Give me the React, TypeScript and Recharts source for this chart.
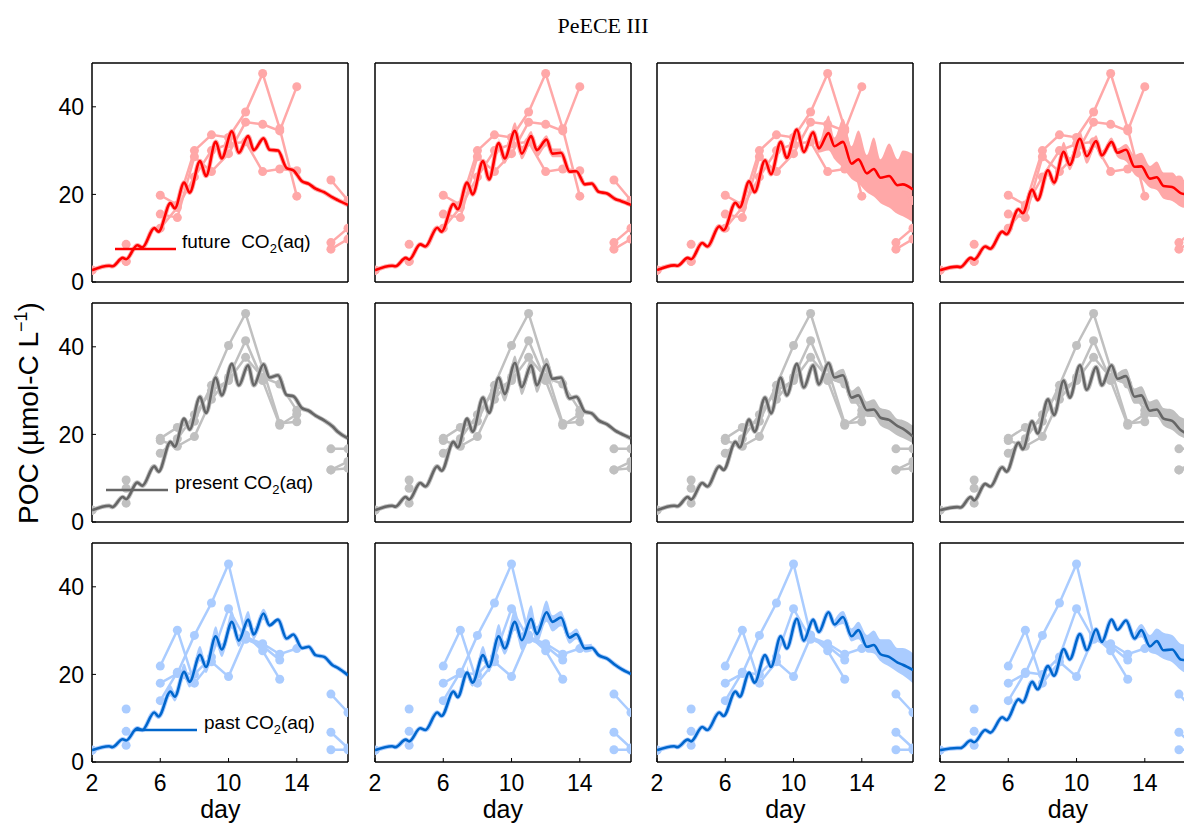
import React from 'react';
import { ComposedChart, Line, Area, XAxis, YAxis } from 'recharts';

// ---------- data ----------
const xTicks = [2, 6, 10, 14];
const yTicks = [0, 20, 40];

// model output sampling days (diel peaks / troughs)
const modelDays = [2, 3.0, 3.2, 3.8, 4.0, 4.65, 4.95, 5.65, 5.9, 6.6, 6.85, 7.4, 7.72, 8.33, 8.68, 9.25, 9.6, 10.2, 10.6, 11.15, 11.48, 12.05, 12.4, 12.9, 13.4, 13.8, 14.3, 14.7, 15.1, 15.6, 16.1, 16.4, 17];

// future CO2 model runs (columns 1-4)
const futureM1 = [2.7, 3.7, 3.6, 5.5, 5.2, 8.4, 7.9, 12.3, 11.5, 18, 16.8, 22.7, 20.4, 27.6, 24.2, 32, 28.2, 34.4, 29.5, 33.3, 30.1, 32.8, 30.2, 30.0, 26.0, 25.5, 23.0, 22.4, 21.3, 20.5, 19.3, 18.7, 17.6];
const futureM2 = [2.7, 3.7, 3.6, 5.5, 5.1, 8.6, 8.1, 12.4, 11.5, 17.8, 16.6, 22.7, 20, 27.6, 23.4, 31.7, 28.2, 34.5, 29.3, 33.3, 30.1, 32.5, 29.3, 29.5, 25.2, 25.3, 22.3, 22.5, 20.6, 20.2, 18.9, 18.5, 17.6];
const futureM3 = [2.7, 3.8, 3.7, 5.5, 5.2, 8.9, 8.1, 12.7, 11.8, 18.1, 17, 23, 20.5, 27.8, 24.6, 32, 28.3, 34.8, 29.7, 34.2, 30.5, 34, 31, 32, 27, 28, 24.8, 25.8, 23.8, 24.2, 22.1, 22.3, 21.1];
const futureM4 = [2.7, 3.5, 3.4, 5.5, 5.1, 8.1, 7.6, 11.5, 10.9, 16.6, 15.7, 21.1, 18.7, 25.5, 22.7, 29.7, 26.7, 32.7, 28.7, 32.2, 28.9, 32, 29.5, 30.2, 26.3, 26.4, 23.6, 23.9, 21.9, 21.7, 20.3, 20.0, 19.2];

// present CO2 model runs
const presentM1 = [2.7, 3.7, 3.4, 5.7, 5.2, 9.0, 8.3, 12.7, 11.5, 18.3, 17.2, 23.6, 21.1, 28.6, 24.9, 33, 28.9, 36.1, 31.2, 35.8, 31.2, 36, 33, 33.5, 29, 28.7, 26, 25.4, 24.3, 23.2, 21.8, 20.6, 19.1];
const presentM2 = [2.7, 3.7, 3.5, 5.7, 5.1, 8.9, 8.1, 12.7, 11.7, 18.3, 17, 23.6, 20.6, 28.4, 24.9, 33, 29.2, 36.3, 30.8, 35.8, 31.2, 36, 32.7, 33, 28.2, 28.6, 25.2, 24.8, 23.2, 22.3, 20.8, 20.2, 19.1];
const presentM3 = [2.7, 3.7, 3.6, 5.7, 5.1, 8.9, 8.1, 12.7, 11.9, 18.3, 17, 23.4, 20.6, 28.4, 24.8, 33, 28.9, 36.1, 30.7, 35.8, 31.4, 36.3, 33, 33.5, 28.4, 28.9, 25.5, 25.7, 23.8, 23.3, 21.9, 21.3, 19.5];
const presentM4 = [2.7, 3.4, 3.3, 5.7, 4.9, 8.7, 8.1, 12.5, 11.5, 18.1, 16.6, 23, 20.2, 28, 24.4, 32.3, 28.4, 35.8, 30.2, 35.4, 31.2, 35.8, 32.7, 33.3, 28.6, 28.9, 25.4, 25.7, 23.6, 23.1, 21, 20.3, 19.5];

// past CO2 model runs
const pastM1 = [2.7, 3.6, 3.4, 5.2, 4.9, 7.7, 7.3, 11.3, 10.4, 16.1, 14.9, 20.6, 18.3, 24.5, 21.7, 28.7, 25.7, 32, 27.7, 32.5, 29.1, 33.9, 31.2, 32.5, 28.2, 29.1, 26, 26.3, 24.4, 24, 22.1, 21.5, 19.8];
const pastM2 = [2.7, 3.6, 3.4, 5.1, 4.7, 7.7, 7.3, 11.3, 10.5, 16.1, 14.8, 20.4, 18.1, 24.4, 21.7, 28.7, 25.9, 32, 27.8, 32.7, 29.2, 34.2, 32, 33, 28.4, 29.2, 25.9, 26.1, 24.4, 23.6, 22.1, 21.3, 20.1];
const pastM3 = [2.7, 3.6, 3.4, 5.1, 4.7, 8, 7.3, 11.3, 10.5, 16.1, 14.9, 20.4, 18.1, 24.4, 21.7, 28.7, 25.9, 32.7, 27.7, 32.5, 29.7, 34.2, 31.4, 33.1, 28.7, 30.1, 26.3, 26.7, 24.6, 24, 22.7, 22.2, 21];
const pastM4 = [2.7, 3.2, 3.2, 4.9, 4.5, 7.3, 6.7, 10.2, 9.6, 14.3, 13.6, 18.3, 16.6, 21.9, 19.7, 25.8, 23.4, 29.2, 25.5, 30.3, 27.4, 32.5, 30.2, 32.3, 28.2, 30.1, 26.4, 27.6, 25.5, 25.7, 23.4, 23.2, 21.6];

// ensemble ranges [day, low, high]
const bandF2 = [[9.25, 30.5, 33], [9.6, 27, 29], [10.2, 33, 36.5], [10.6, 28, 31], [11.15, 31.5, 34.5], [11.48, 28.5, 31], [12.05, 31, 33.5], [12.4, 28.5, 30.5], [12.9, 28.5, 30.5]];
const bandF3 = [[11.15, 33.5, 35], [11.48, 29.5, 32], [12.05, 30, 38], [12.4, 28, 33], [12.9, 26, 37.3], [13.4, 23.5, 31], [13.8, 22.5, 34.6], [14.3, 20.5, 29], [14.7, 19.5, 33], [15.1, 18, 28], [15.6, 17, 31.6], [16.1, 15.5, 28], [16.4, 15, 30], [17, 13.6, 29.2]];
const bandF4 = [[8.33, 24.5, 27], [8.68, 22, 23.5], [9.25, 28.5, 32], [9.6, 25.5, 28.5], [10.2, 31, 34.5], [10.6, 27, 30], [11.15, 31, 33.5], [11.48, 28, 30], [12.05, 31, 33], [12.4, 28.5, 30.5], [12.9, 27.5, 31.5], [13.4, 24.5, 29], [13.8, 23.5, 29.5], [14.3, 21.5, 26.5], [14.7, 21, 27.5], [15.1, 19, 25], [15.6, 18.5, 25], [16.1, 17.2, 23.2], [16.4, 16.8, 23.5], [17, 15.8, 22.5]];
const bandP2 = [[9.25, 31.5, 34.5], [9.6, 27.5, 30], [10.2, 34.5, 38], [10.6, 29, 32], [11.15, 34, 37.5], [11.48, 29.5, 32], [12.05, 34.5, 37.5], [12.4, 31.5, 33.5]];
const bandP3 = [[12.4, 32, 34], [12.9, 31.5, 35], [13.4, 27, 30], [13.8, 27, 31], [14.3, 24, 27.5], [14.7, 24, 28], [15.1, 22, 26], [15.6, 21, 25.5], [16.1, 19.7, 23.5], [16.4, 19.2, 23.3], [17, 18, 22]];
const bandP4 = [[12.4, 32, 34], [12.9, 31, 35], [13.4, 27, 30.5], [13.8, 27, 31], [14.3, 24, 27.5], [14.7, 24, 28], [15.1, 22, 26], [15.6, 21, 25.7], [16.1, 19.5, 24], [16.4, 19, 23.5], [17, 18, 22.5]];
const bandS1 = [[5.65, 10.5, 12], [5.9, 9.8, 11], [6.6, 15, 17.5], [6.85, 13.8, 16], [7.4, 19, 22.5], [7.72, 17, 19.5], [8.33, 23, 26.5], [8.68, 20.3, 23], [9.25, 27, 31], [9.6, 24, 27], [10.2, 30.5, 34.5], [10.6, 26.3, 29], [11.15, 31, 34.5], [11.48, 28, 30.5], [12.05, 32.5, 35], [12.4, 30.5, 32]];
const bandS2 = [[7.4, 19.5, 22], [7.72, 17.2, 19], [8.33, 23, 26.5], [8.68, 20.5, 23], [9.25, 27, 31.5], [9.6, 24.5, 27.5], [10.2, 30, 35], [10.6, 25.5, 29.5], [11.15, 30.5, 35.8], [11.48, 27, 31], [12.05, 32, 36.9], [12.4, 29.8, 33.5], [12.9, 31, 34.5], [13.4, 27, 29.5], [13.8, 28, 30.5], [14.3, 25, 26.8], [14.7, 25.3, 27]];
const bandS3 = [[12.4, 30.5, 32.5], [12.9, 31.5, 34.5], [13.4, 27.5, 30.5], [13.8, 28, 32], [14.3, 25, 29], [14.7, 24.8, 30], [15.1, 23, 28], [15.6, 21.8, 28], [16.1, 20.5, 26], [16.4, 19.8, 26], [17, 18, 24.8]];
const bandS4 = [[13.4, 27.5, 29.5], [13.8, 28.5, 31.5], [14.3, 25, 29], [14.7, 24.5, 30.5], [15.1, 23.5, 29.5], [15.6, 22.8, 29], [16.1, 21, 27], [16.4, 20.2, 26.7], [17, 18.5, 25]];

// mesocosm observations [day, POC] (null = gap)
const obsF_A = [[2, 2.7], [3, null], [4, 8.6], [5, null], [6, 19.8], [7, 17.6], [8, 30], [9, 33.6], [10, 33], [11, 38.8], [12, 47.6], [13, 35], [14, 19.6], [15, null], [16, 23.3], [17, 18.6]];
const obsF_B = [[2, 2.7], [3, null], [4, 4.7], [5, null], [6, 15.5], [7, 14.7], [8, 28.6], [9, 25.2], [10, 29.3], [11, 36.5], [12, 36], [13, 34.5], [14, 44.6], [15, null], [16, 9], [17, 12.3]];
const obsF_C = [[2, 2.7], [3, null], [4, 4.7], [5, null], [6, 12.3], [7, 17], [8, 24], [9, 30], [10, 31.5], [11, 32], [12, 25.2], [13, 25.8], [14, 25.4], [15, null], [16, 7.5], [17, 9.8]];

const obsP_A = [[2, 2.7], [3, null], [4, 9.6], [5, null], [6, 19.1], [7, 21.6], [8, 23], [9, 31.2], [10, 40.3], [11, 47.6], [13, 22.5], [14, 22.9], [15, null], [16, 16.7], [17, 16.7]];
const obsP_B = [[2, 2.7], [3, null], [4, 7.7], [5, null], [6, 18.6], [7, 17.3], [8, 19.5], [9, 28], [10, 33], [11, 41.4], [12, 32.3], [13, 22.1], [14, 24.6], [15, null], [16, 11.9], [17, 13.8]];
const obsP_C = [[2, 2.7], [3, null], [4, 4.3], [5, null], [6, 15.7], [7, 19], [8, 24.5], [9, 30], [10, 32.3], [11, 37.6], [12, 33], [13, 31.5], [14, 25.5], [15, null], [16, 11.9], [17, 12.3]];

const obsS_A = [[2, 2.7], [3, null], [4, 12.1], [5, null], [6, 21.9], [7, 30.1], [8, 18], [9, 22.9], [10, 19.5], [11, 28.5], [12, 27], [13, 24.6], [14, 25.9], [15, null], [16, 15.5], [17, 11.3]];
const obsS_B = [[2, 2.7], [3, null], [4, 7], [5, null], [6, 18], [7, 20.2], [8, 28.9], [9, 36.3], [10, 45.2], [11, 29], [12, 25.4], [13, 18.9], [14, null], [16, 6.8], [17, 3.2]];
const obsS_C = [[2, 2.7], [3, null], [4, 3.8], [5, null], [6, 14], [7, 20.5], [8, 20], [9, 24], [10, 35], [11, 28], [12, 26.5], [13, 23.3], [14, null], [16, 2.8], [17, 2.8]];

const legendLabels = ['future', 'present', 'past'];

// ---------- styling / layout ----------
const FONT = '"Liberation Sans", Arial, Helvetica, sans-serif';
const SERIF = '"Liberation Serif", "Times New Roman", serif';
const PLOT_W = 256;
const PLOT_H = 219;
const M_LEFT = 60;
const M_TOP = 10;
const CHART_W = PLOT_W + 70;
const CHART_H = PLOT_H + 60;
const colLefts = [92.3, 374.8, 657.3, 939.8];
const rowTops = [63.3, 303.3, 543.3];

const treatments = [
  { dark: '#FF0000', light: '#FFA8A8', models: [futureM1, futureM2, futureM3, futureM4], bands: [null, bandF2, bandF3, bandF4], obs: [obsF_A, obsF_B, obsF_C] },
  { dark: '#666666', light: '#C0C0C0', models: [presentM1, presentM2, presentM3, presentM4], bands: [null, bandP2, bandP3, bandP4], obs: [obsP_A, obsP_B, obsP_C] },
  { dark: '#0066CC', light: '#AACCFF', models: [pastM1, pastM2, pastM3, pastM4], bands: [bandS1, bandS2, bandS3, bandS4], obs: [obsS_A, obsS_B, obsS_C] },
];

const legendPos = [
  { x1: 115, x2: 176, y: 249, tx: 182, ty: 248, sep: '  ' },
  { x1: 106, x2: 168, y: 490, tx: 175, ty: 489, sep: ' ' },
  { x1: 135, x2: 197, y: 730, tx: 204, ty: 729, sep: ' ' },
];

const axisLine = { stroke: '#000', strokeWidth: 1.5 };
const tickLine = { stroke: '#000', strokeWidth: 1 };
const tickFont = { fill: '#000', fontSize: 23, fontFamily: FONT };

function Panel({ row, col }: { row: number; col: number }) {
  const t = treatments[row];
  const model = t.models[col].map((v, i) => ({ d: modelDays[i], v }));
  const band = t.bands[col];
  const bandData = band ? band.map(([d, lo, hi]) => ({ d, r: [lo, hi] })) : null;
  const obs = t.obs.map((s) => s.map(([d, v]) => ({ d, v })));
  return (
    <div style={{ position: 'absolute', left: colLefts[col] - M_LEFT, top: rowTops[row] - M_TOP }}>
      <ComposedChart width={CHART_W} height={CHART_H} margin={{ top: 9, right: 9, left: 10, bottom: 20 }}>
        <XAxis dataKey="d" type="number" domain={[2, 17]} ticks={xTicks} interval={0} allowDataOverflow
          height={30} axisLine={axisLine} tickLine={tickLine} tickSize={-4} tickMargin={17}
          tick={row === 2 ? tickFont : false} />
        <XAxis xAxisId="top" orientation="top" dataKey="d" type="number" domain={[2, 17]} ticks={xTicks} interval={0}
          allowDataOverflow height={1} axisLine={axisLine} tickLine={tickLine} tickSize={-4} tick={false} />
        <YAxis type="number" domain={[0, 50]} ticks={yTicks} interval={0} allowDataOverflow width={50}
          axisLine={axisLine} tickLine={tickLine} tickSize={-4} tickMargin={12}
          tick={col === 0 ? tickFont : false} />
        <YAxis yAxisId="right" orientation="right" type="number" domain={[0, 50]} ticks={yTicks} interval={0}
          allowDataOverflow width={1} axisLine={axisLine} tickLine={tickLine} tickSize={-4} tick={false} />
        {bandData && (
          <Area data={bandData} dataKey="r" type="monotone" stroke="none" fill={t.light} fillOpacity={1}
            isAnimationActive={false} />
        )}
        <Line data={model} dataKey="v" type="monotone" stroke={t.light} strokeWidth={4.5} dot={false}
          isAnimationActive={false} />
        {obs.map((s, i) => (
          <Line key={'o' + i} data={s} dataKey="v" type="linear" stroke={t.light} strokeWidth={2.5}
            dot={{ r: 4.5, fill: t.light, stroke: 'none' }} isAnimationActive={false} />
        ))}
        <Line data={model} dataKey="v" type="monotone" stroke={t.dark} strokeWidth={2.6} dot={false}
          isAnimationActive={false} zIndex={1000} />
      </ComposedChart>
    </div>
  );
}

export default function App() {
  const panels = [];
  for (let r = 0; r < 3; r++) for (let c = 0; c < 4; c++) panels.push(<Panel key={r + '-' + c} row={r} col={c} />);
  return (
    <div style={{ position: 'fixed', left: 0, top: 0, width: 1184, height: 831, overflow: 'hidden', background: '#fff' }}>
      {panels}
      <svg width={1184} height={831} style={{ position: 'absolute', left: 0, top: 0, pointerEvents: 'none' }}>
        <text x={603} y={33} textAnchor="middle" fontFamily={SERIF} fontSize={22} fill="#000">PeECE III</text>
        <text transform="translate(38,413) rotate(-90)" textAnchor="middle" fontFamily={FONT} fontSize={28} fill="#000">
          <tspan>POC (µmol-C L</tspan>
          <tspan dy={-11} fontSize={18}>−1</tspan>
          <tspan dy={11}>)</tspan>
        </text>
        {colLefts.map((x, i) => (
          <text key={'day' + i} x={x + PLOT_W / 2} y={818} textAnchor="middle" fontFamily={FONT} fontSize={25} fill="#000">day</text>
        ))}
        {legendPos.map((p, i) => (
          <g key={'lg' + i}>
            <line x1={p.x1} x2={p.x2} y1={p.y} y2={p.y} stroke={treatments[i].dark} strokeWidth={2.6} />
            <text x={p.tx} y={p.ty} fontFamily={FONT} fontSize={19} fill="#000" style={{ whiteSpace: 'pre' }}>
              <tspan>{legendLabels[i] + p.sep + 'CO'}</tspan>
              <tspan dy={5} fontSize={13}>2</tspan>
              <tspan dy={-5}>(aq)</tspan>
            </text>
          </g>
        ))}
      </svg>
    </div>
  );
}
